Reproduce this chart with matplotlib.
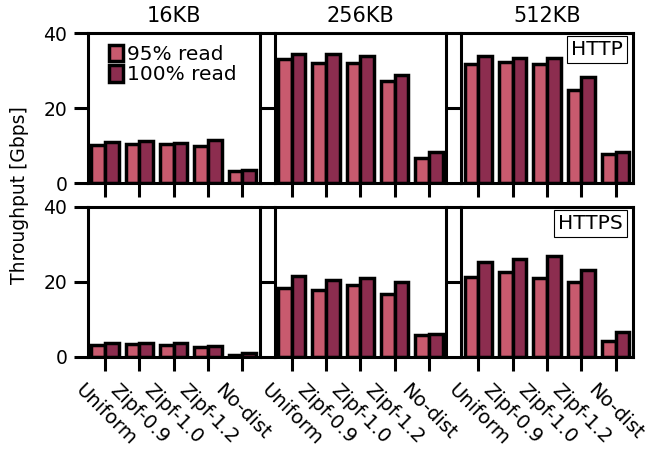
import numpy as np
import matplotlib
matplotlib.use("Agg")
import matplotlib.pyplot as plt

categories = ["Uniform", "Zipf-0.9", "Zipf-1.0", "Zipf-1.2", "No-dist"]
sizes = ["16KB", "256KB", "512KB"]
protocols = ["HTTP", "HTTPS"]
series = ["95% read", "100% read"]

# HTTP
http_16_95 = [10.2, 10.5, 10.3, 10.0, 3.2]
http_16_100 = [11.0, 11.2, 10.7, 11.5, 3.5]
http_256_95 = [33.2, 32.1, 32.0, 27.3, 6.8]
http_256_100 = [34.3, 34.3, 33.8, 28.8, 8.3]
http_512_95 = [31.7, 32.3, 31.7, 24.8, 7.7]
http_512_100 = [33.8, 33.4, 33.4, 28.3, 8.2]
# HTTPS
https_16_95 = [3.2, 3.4, 3.2, 2.5, 0.6]
https_16_100 = [3.7, 3.8, 3.7, 3.0, 0.9]
https_256_95 = [18.3, 17.8, 19.3, 16.7, 5.7]
https_256_100 = [21.7, 20.4, 21.1, 20.0, 6.1]
https_512_95 = [21.3, 22.6, 21.0, 20.1, 4.2]
https_512_100 = [25.3, 26.2, 26.9, 23.1, 6.7]

yticks = [0, 20, 40]

data = [
    [(http_16_95, http_16_100), (http_256_95, http_256_100), (http_512_95, http_512_100)],
    [(https_16_95, https_16_100), (https_256_95, https_256_100), (https_512_95, https_512_100)],
]

colors = ["#C85A6E", "#8C2D4F"]

plt.rcParams["font.family"] = ["DejaVu Sans"]

fig, axes = plt.subplots(2, 3, figsize=(6.47, 4.54), dpi=100, sharey=True)
fig.subplots_adjust(left=0.136, right=0.978, top=0.927, bottom=0.214,
                    wspace=0.088, hspace=0.16)

x = np.arange(len(categories))
w = 0.4
for r in range(2):
    for c in range(3):
        ax = axes[r][c]
        v95, v100 = data[r][c]
        ax.bar(x - w / 2, v95, width=w, color=colors[0], edgecolor="black",
               linewidth=2.5, label=series[0])
        ax.bar(x + w / 2, v100, width=w, color=colors[1], edgecolor="black",
               linewidth=2.5, label=series[1])
        ax.set_xlim(-0.5, 4.5)
        ax.set_ylim(0, 40)
        ax.set_yticks(yticks)
        ax.set_xticks(x)
        for s in ax.spines.values():
            s.set_linewidth(2.2)
        ax.tick_params(axis="both", length=10, width=2.2)
        ax.tick_params(axis="y", labelsize=13.5, pad=5)
        ax.tick_params(axis="x", labelsize=14, pad=7)
        if r == 0:
            ax.set_xticklabels([])
            ax.set_title(sizes[c], fontsize=15, pad=8)
        else:
            ax.set_xticklabels(categories, rotation=-45, ha="center")
        if c != 0:
            ax.tick_params(axis="y", labelleft=False)
        if c == 2:
            ax.text(0.94, 0.955, protocols[r], transform=ax.transAxes,
                    ha="right", va="top", fontsize=14.5,
                    bbox=dict(boxstyle="square,pad=0.2", fc="white",
                              ec="black", lw=0.8))
        if r == 0 and c == 0:
            ax.legend(loc="upper left", bbox_to_anchor=(0.03, 1.03), frameon=False,
                      fontsize=14.5, handlelength=0.7, handleheight=0.9,
                      handletextpad=0.2, labelspacing=0.05, borderpad=0.3)

fig.text(0.03, 0.57, "Throughput [Gbps]", rotation=90, va="center", ha="center",
         fontsize=13.5)

fig.savefig("out.png", dpi=100)
